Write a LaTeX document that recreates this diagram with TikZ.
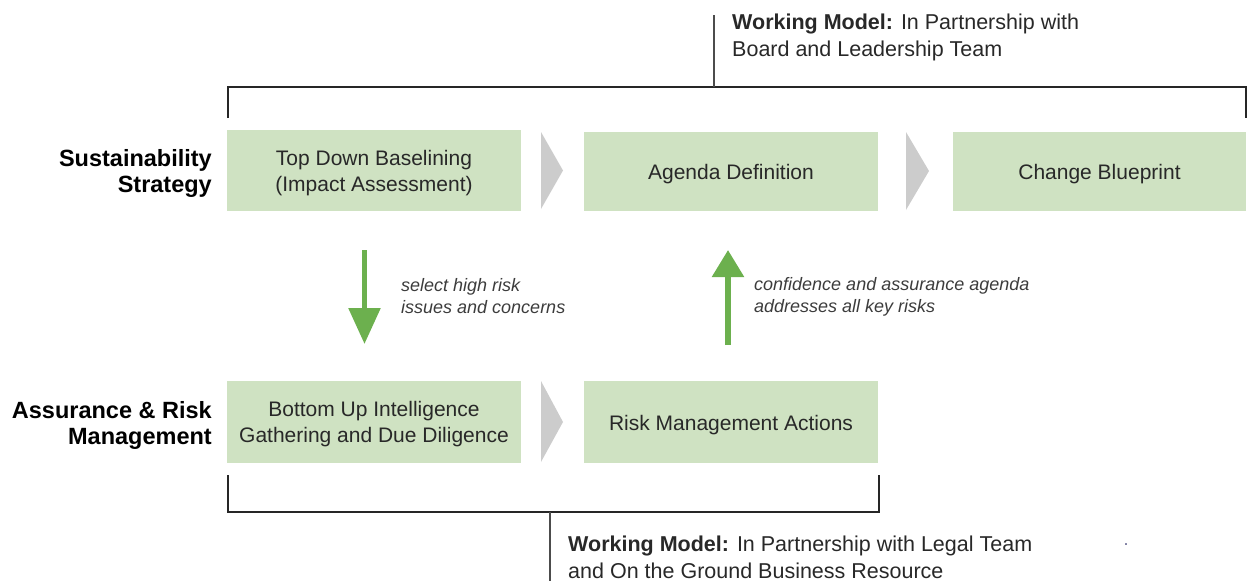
\documentclass[tikz,border=0pt]{standalone}
\usepackage{fontspec}
\setmainfont{Liberation Sans}
\usetikzlibrary{arrows.meta}
\definecolor{boxgreen}{RGB}{207,226,194}
\definecolor{arrgreen}{RGB}{108,176,78}
\definecolor{chevgray}{RGB}{204,204,204}
\definecolor{txt}{RGB}{40,40,40}
\definecolor{itxt}{RGB}{60,60,60}
\definecolor{dotcol}{RGB}{110,110,150}
\tikzset{
  stagebox/.style={fill=boxgreen, draw=none, minimum width=294pt, minimum height=81pt, inner sep=0pt},
  stagetext/.style={align=center, inner sep=0pt, text=txt, font=\fontsize{21}{26}\selectfont},
  rowlabel/.style={anchor=east, align=right, inner sep=0pt, font=\fontsize{23.5}{26}\selectfont\bfseries},
  note/.style={anchor=west, align=left, inner sep=0pt, text=itxt, font=\fontsize{18}{22.5}\selectfont\itshape},
  wm/.style={anchor=west, align=left, inner sep=0pt, text=txt, font=\fontsize{21.5}{27}\selectfont},
  chev/.style={fill=chevgray, draw=none},
  bigarrow/.style={draw=arrgreen, line width=5.6pt},
  bracket/.style={draw=black!85, line width=1.3pt},
  stem/.style={draw=black!70, line width=1.1pt}
}
\begin{document}
\begin{tikzpicture}[x=1pt,y=-1pt]
\useasboundingbox (0,0) rectangle (1248,581);
% boxes
\node[stagebox] (b1) at (374,170.5) {};
\node[stagebox, minimum height=79pt] (b2) at (731,171.5) {};
\node[stagebox, minimum width=293pt, minimum height=79pt] (b3) at (1099.5,171.5) {};
\node[stagebox, minimum height=82pt] (b4) at (374,422) {};
\node[stagebox, minimum height=82pt] (b5) at (731,422) {};
\node[stagetext] (t1) at ([yshift=-3pt]b1.center) {Top Down Baselining\\(Impact Assessment)};
\node[stagetext] (t2) at ([yshift=-3pt]b2.center) {Agenda Definition};
\node[stagetext] (t3) at ([yshift=-3pt]b3.center) {Change Blueprint};
\node[stagetext] (t4) at ([yshift=-2pt]b4.center) {Bottom Up Intelligence\\Gathering and Due Diligence};
\node[stagetext] (t5) at ([yshift=-3pt]b5.center) {Risk Management Actions};
% chevrons
\fill[chev] (541,132) -- (563,170.5) -- (541,209) -- cycle;
\fill[chev] (906,132) -- (929,171) -- (906,210) -- cycle;
\fill[chev] (541,381) -- (563,422) -- (541,462) -- cycle;
% row labels
\node[rowlabel] (l1) at (212,173) {Sustainability\\Strategy};
\node[rowlabel] (l2) at (212,425) {Assurance \& Risk\\Management};
% arrows
\coordinate (d1) at (364.5,250);
\coordinate (d2) at (364.5,344);
\coordinate (u1) at (728,345);
\coordinate (u2) at (728,250);
\draw[bigarrow, -{Triangle[width=31pt,length=36pt]}] (d1) -- (d2);
\draw[bigarrow, -{Triangle[width=31pt,length=27pt]}] (u1) -- (u2);
\node[note] (n1) at (401,296) {select high risk\\issues and concerns};
\node[note] (n2) at (754,297) {confidence and assurance agenda\\addresses all key risks};
% top bracket
\coordinate (tl) at (228,118);
\coordinate (tr) at (1246,118);
\coordinate (tm) at (714,87);
\coordinate (tt) at (714,15);
\draw[bracket] (tl) |- (tr |- tm) -- (tr);
\draw[stem] (tt) -- (tm);
\node[wm] (w1) at (732,37) {\textbf{Working Model:} In Partnership with\\Board and Leadership Team};
% bottom bracket
\coordinate (bl) at (228,475);
\coordinate (br) at (879,475);
\coordinate (bm) at (550,512);
\coordinate (bb) at (550,581);
\draw[bracket] (bl) |- (br |- bm) -- (br);
\draw[stem] (bm) -- (bb);
\node[wm] (w2) at (568,557.5) {\textbf{Working Model:} In Partnership with Legal Team\\and On the Ground Business Resource};
\node[inner sep=0pt, text=dotcol, font=\fontsize{18}{18}\selectfont] (dot) at (1126,545) {.};
\end{tikzpicture}
\end{document}
